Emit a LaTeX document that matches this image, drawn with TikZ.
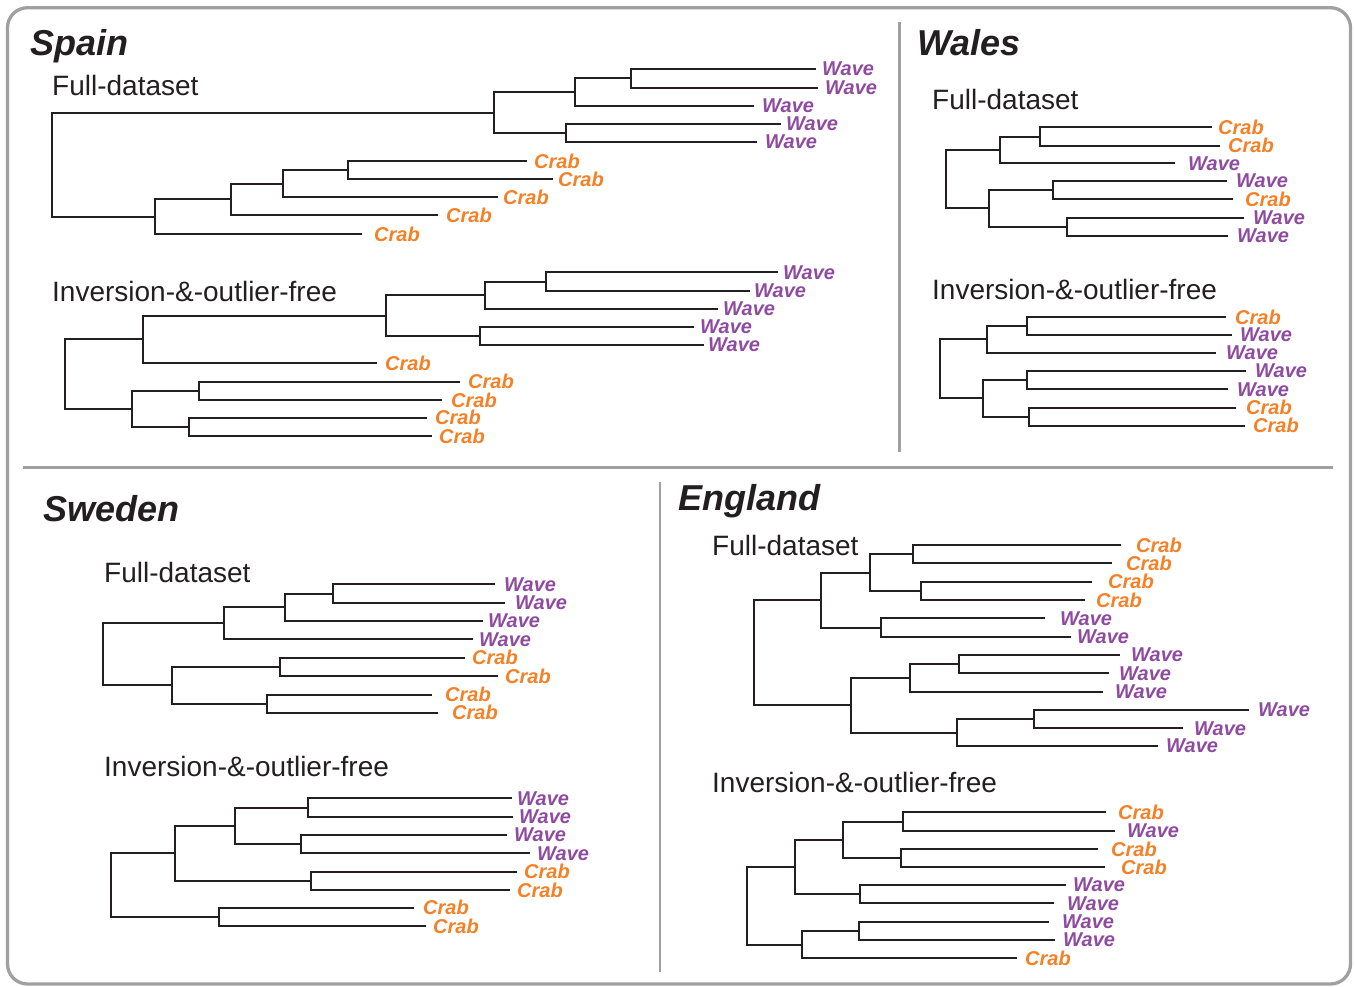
\documentclass[tikz,border=0pt]{standalone}
\usepackage{fontspec}
\setmainfont{Liberation Sans}
\usetikzlibrary{calc}
\definecolor{crabc}{RGB}{245,128,37}
\definecolor{wavec}{RGB}{142,75,160}
\definecolor{framec}{RGB}{160,160,160}
\definecolor{treec}{RGB}{35,31,32}
\newcommand\lf[5]{\coordinate (#1) at (#2,#3); \node[lab#5] (#1t) at (#4,#3) {#5};}
\newcommand\nd[4]{\path (#3) -- (#4) coordinate[pos=.5] (#1m); \coordinate (#1) at (#2,0 |- #1m); \draw[treeline] (#1) |- (#3) (#1) |- (#4);}
\tikzset{
  treeline/.style={draw=treec, line width=2pt, line join=miter},
  labCrab/.style={text=crabc, font=\fontsize{20}{20}\selectfont\bfseries\itshape, anchor=west, inner sep=0pt},
  labWave/.style={text=wavec, font=\fontsize{20}{20}\selectfont\bfseries\itshape, anchor=west, inner sep=0pt},
  title/.style={font=\fontsize{36}{36}\selectfont\bfseries\itshape, anchor=base west, inner sep=0pt, text=treec},
  sub/.style={font=\fontsize{28}{28}\selectfont, anchor=base west, inner sep=0pt, text=treec},
  frameline/.style={draw=framec, line width=3.3pt},
  divline/.style={draw=framec, line width=2.5pt}
}
\begin{document}
\begin{tikzpicture}[x=1pt,y=-1pt]
\useasboundingbox (0,0) rectangle (1355,986);
\draw[frameline, rounded corners=20pt] (7.5,7.7) rectangle (1350.5,984);
\coordinate (d1a) at (899.5,22); \coordinate (d1b) at (899.5,452);
\coordinate (d2a) at (23,467.3); \coordinate (d2b) at (1333,467.3);
\coordinate (d3a) at (660,482); \coordinate (d3b) at (660,972);
\draw[divline] (d1a) -- (d1b);
\draw[divline] (d2a) -- (d2b);
\draw[divline] (d3a) -- (d3b);
% titles
\node[title] (tSpain) at (30,55) {Spain};
\node[title] (tWales) at (917,55) {Wales};
\node[title] (tSweden) at (43,521) {Sweden};
\node[title] (tEngland) at (678,510) {England};
\node[sub] (sSf) at (52,95) {Full-dataset};
\node[sub] (sSi) at (52,301) {Inversion-\&-outlier-free};
\node[sub] (sWf) at (932,109) {Full-dataset};
\node[sub] (sWi) at (932,299) {Inversion-\&-outlier-free};
\node[sub] (sXf) at (104,582) {Full-dataset};
\node[sub] (sXi) at (104,776) {Inversion-\&-outlier-free};
\node[sub] (sEf) at (712,555) {Full-dataset};
\node[sub] (sEi) at (712,792) {Inversion-\&-outlier-free};
% Spain full
\lf{sfW1}{816}{69}{822}{Wave}
\lf{sfW2}{818}{87.7}{825}{Wave}
\lf{sfW3}{754}{105.7}{762}{Wave}
\lf{sfW4}{781}{124}{786}{Wave}
\lf{sfW5}{757}{142}{765}{Wave}
\lf{sfC1}{527}{161}{534}{Crab}
\lf{sfC2}{553}{179}{558}{Crab}
\lf{sfC3}{498}{197}{503}{Crab}
\lf{sfC4}{438}{215}{446}{Crab}
\lf{sfC5}{362}{234}{374}{Crab}
\nd{sfA}{631}{sfW1}{sfW2}
\nd{sfB}{575}{sfA}{sfW3}
\nd{sfC}{566}{sfW4}{sfW5}
\nd{sfD}{494}{sfB}{sfC}
\nd{sfE}{348}{sfC1}{sfC2}
\nd{sfF}{282.5}{sfE}{sfC3}
\nd{sfG}{231}{sfF}{sfC4}
\nd{sfH}{154.5}{sfG}{sfC5}
\nd{sfR}{52}{sfD}{sfH}
% Spain inversion-free
\lf{siW1}{778}{272.3}{783}{Wave}
\lf{siW2}{750}{291}{754}{Wave}
\lf{siW3}{718}{309}{723}{Wave}
\lf{siW4}{694}{326.7}{700}{Wave}
\lf{siW5}{704}{345}{708}{Wave}
\lf{siC1}{377}{363}{385}{Crab}
\lf{siC2}{460}{381.7}{468}{Crab}
\lf{siC3}{442}{400}{451}{Crab}
\lf{siC4}{427}{417.7}{435}{Crab}
\lf{siC5}{432}{436}{439}{Crab}
\nd{siA}{546}{siW1}{siW2}
\nd{siB}{485}{siA}{siW3}
\nd{siC}{480}{siW4}{siW5}
\nd{siD}{386}{siB}{siC}
\nd{siE}{142.5}{siD}{siC1}
\nd{siF}{198.5}{siC2}{siC3}
\nd{siG}{188.5}{siC4}{siC5}
\nd{siH}{131.5}{siF}{siG}
\nd{siR}{64.5}{siE}{siH}
% Wales full
\lf{wfC1}{1211.7}{127.3}{1218}{Crab}
\lf{wfC2}{1220}{145.7}{1228}{Crab}
\lf{wfW1}{1175}{163.3}{1188}{Wave}
\lf{wfW2}{1226.7}{181}{1236}{Wave}
\lf{wfC3}{1233}{199.3}{1245}{Crab}
\lf{wfW3}{1244}{217.7}{1253}{Wave}
\lf{wfW4}{1228}{235.7}{1237}{Wave}
\nd{wfA}{1040}{wfC1}{wfC2}
\nd{wfB}{1000}{wfA}{wfW1}
\nd{wfC}{1052.7}{wfW2}{wfC3}
\nd{wfD}{1067.3}{wfW3}{wfW4}
\nd{wfE}{989.3}{wfC}{wfD}
\nd{wfR}{946}{wfB}{wfE}
% Wales inversion-free
\lf{wiC1}{1225.7}{317.3}{1235}{Crab}
\lf{wiW1}{1231.7}{335}{1240}{Wave}
\lf{wiW2}{1215.7}{352.7}{1226}{Wave}
\lf{wiW3}{1246}{370.7}{1255}{Wave}
\lf{wiW4}{1227.7}{389.3}{1237}{Wave}
\lf{wiC2}{1236}{407.7}{1246}{Crab}
\lf{wiC3}{1245}{425.7}{1253}{Crab}
\nd{wiA}{1026.7}{wiC1}{wiW1}
\nd{wiB}{986.7}{wiA}{wiW2}
\nd{wiC}{1026.7}{wiW3}{wiW4}
\nd{wiD}{1029.3}{wiC2}{wiC3}
\nd{wiE}{982.7}{wiC}{wiD}
\nd{wiR}{940}{wiB}{wiE}
% Sweden full
\lf{xfW1}{495}{584.3}{504}{Wave}
\lf{xfW2}{505}{602.7}{515}{Wave}
\lf{xfW3}{483.3}{621}{488}{Wave}
\lf{xfW4}{472.7}{639.3}{479}{Wave}
\lf{xfC1}{465}{657.7}{472}{Crab}
\lf{xfC2}{498.3}{676}{505}{Crab}
\lf{xfC3}{431.7}{694.7}{445}{Crab}
\lf{xfC4}{438.3}{712.7}{452}{Crab}
\nd{xfA}{333.3}{xfW1}{xfW2}
\nd{xfB}{285}{xfA}{xfW3}
\nd{xfC}{224}{xfB}{xfW4}
\nd{xfD}{280}{xfC1}{xfC2}
\nd{xfE}{266.7}{xfC3}{xfC4}
\nd{xfF}{172.3}{xfD}{xfE}
\nd{xfR}{103.3}{xfC}{xfF}
% Sweden inversion-free
\lf{xiW1}{511.7}{798.3}{517}{Wave}
\lf{xiW2}{513.3}{816.7}{519}{Wave}
\lf{xiW3}{506.7}{835}{514}{Wave}
\lf{xiW4}{530}{853.3}{537}{Wave}
\lf{xiC1}{516.7}{871.7}{524}{Crab}
\lf{xiC2}{510}{890}{517}{Crab}
\lf{xiC3}{414.3}{907.7}{423}{Crab}
\lf{xiC4}{426}{926}{433}{Crab}
\nd{xiA}{307.7}{xiW1}{xiW2}
\nd{xiB}{301}{xiW3}{xiW4}
\nd{xiC}{235}{xiA}{xiB}
\nd{xiD}{311}{xiC1}{xiC2}
\nd{xiE}{175}{xiC}{xiD}
\nd{xiF}{219.3}{xiC3}{xiC4}
\nd{xiR}{110.7}{xiE}{xiF}
% England full
\lf{efC1}{1121.4}{545}{1136}{Crab}
\lf{efC2}{1111.5}{563.3}{1126}{Crab}
\lf{efC3}{1092.3}{581.7}{1108}{Crab}
\lf{efC4}{1085}{600}{1096}{Crab}
\lf{efW1}{1045}{618.3}{1060}{Wave}
\lf{efW2}{1070.5}{636.7}{1077}{Wave}
\lf{efW3}{1119.5}{655}{1131}{Wave}
\lf{efW4}{1108.6}{673.3}{1119}{Wave}
\lf{efW5}{1102.5}{691.7}{1115}{Wave}
\lf{efW6}{1248.6}{710}{1258}{Wave}
\lf{efW7}{1183}{728.3}{1194}{Wave}
\lf{efW8}{1157.7}{746}{1166}{Wave}
\nd{efA}{913.4}{efC1}{efC2}
\nd{efB}{920.6}{efC3}{efC4}
\nd{efC}{869.7}{efA}{efB}
\nd{efD}{880.6}{efW1}{efW2}
\nd{efE}{821.4}{efC}{efD}
\nd{efF}{958.8}{efW3}{efW4}
\nd{efG}{909.7}{efF}{efW5}
\nd{efH}{1034}{efW6}{efW7}
\nd{efI}{957}{efH}{efW8}
\nd{efJ}{850.5}{efG}{efI}
\nd{efR}{754}{efE}{efJ}
% England inversion-free
\lf{eiC1}{1105.7}{812.3}{1118}{Crab}
\lf{eiW1}{1115}{830.7}{1127}{Wave}
\lf{eiC2}{1098.3}{849}{1111}{Crab}
\lf{eiC3}{1105}{867.3}{1121}{Crab}
\lf{eiW2}{1066}{885}{1073}{Wave}
\lf{eiW3}{1054.3}{903.3}{1067}{Wave}
\lf{eiW4}{1049.3}{921.7}{1062}{Wave}
\lf{eiW5}{1055}{940}{1063}{Wave}
\lf{eiC4}{1016.7}{958.3}{1025}{Crab}
\nd{eiA}{902.7}{eiC1}{eiW1}
\nd{eiB}{901}{eiC2}{eiC3}
\nd{eiC}{842.7}{eiA}{eiB}
\nd{eiD}{860}{eiW2}{eiW3}
\nd{eiE}{795}{eiC}{eiD}
\nd{eiF}{859}{eiW4}{eiW5}
\nd{eiG}{801.7}{eiF}{eiC4}
\nd{eiR}{746.7}{eiE}{eiG}
\end{tikzpicture}
\end{document}
